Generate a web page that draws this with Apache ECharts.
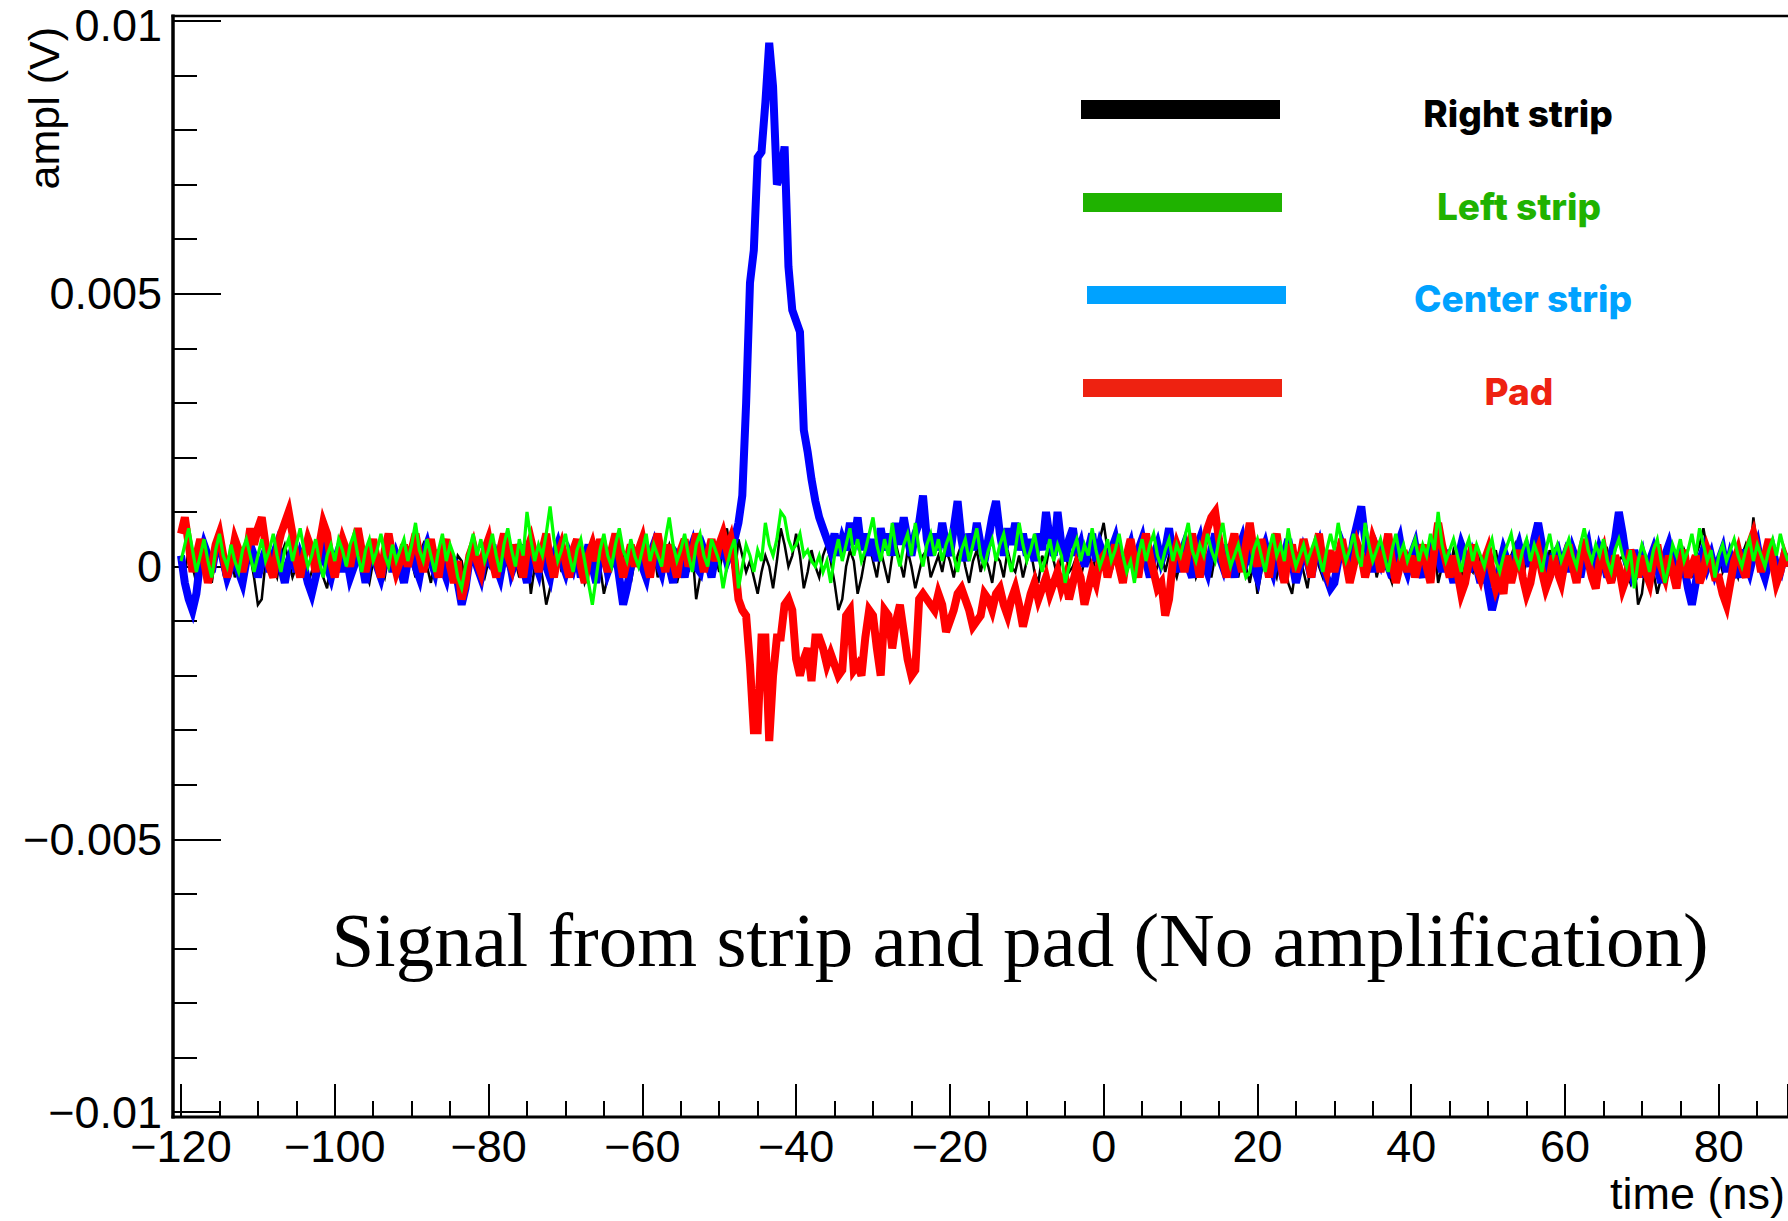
<!DOCTYPE html>
<html>
<head>
<meta charset="utf-8">
<script src="https://cdn.jsdelivr.net/npm/echarts@6/dist/echarts.min.js"></script>
<style>
html,body{margin:0;padding:0;background:#ffffff;}
#chart{width:1788px;height:1221px;}
</style>
</head>
<body>
<div id="chart"></div>
<script>
// ---- sampling grid (ns) ----
const TIME_START = -120;
const TIME_STEP = 0.5;

// ---- tick labels ----
const X_TICK_VALUES = [-120, -100, -80, -60, -40, -20, 0, 20, 40, 60, 80];
const X_TICK_LABELS = ['\u2212120', '\u2212100', '\u221280', '\u221260', '\u221240', '\u221220', '0', '20', '40', '60', '80'];
// amplitudes are stored in units of 1e-4 V
const Y_TICK_VALUES = [-100, -50, 0, 50, 100];
const Y_TICK_LABELS = ['\u22120.01', '\u22120.005', '0', '0.005', '0.01'];

// ---- series names ----
const SERIES_NAMES = ['Right strip', 'Left strip', 'Center strip', 'Pad'];

// ---- amplitudes (1e-4 V), one value every 0.5 ns from -120 ns ----
const rightStrip = [
 1,-1,3,0,-3,1,4,0,-3,2,3,-1,1,3,-2,0,-4,1,2,-2,
 -7,-6,1,3,0,-2,2,4,1,-2,0,3,1,-3,-1,2,0,-2,-4,1,
 2,-1,3,1,-2,0,4,2,-1,-3,1,3,0,-2,2,4,1,-2,-1,3,
 1,-2,2,4,0,-3,1,2,-1,3,0,-2,2,1,-3,-1,3,2,0,-2,
 1,3,-1,-3,2,0,4,1,-2,2,3,-5,0,2,-2,-7,-4,1,3,-1,
 2,0,-2,3,1,-3,-1,2,4,0,-5,-2,1,3,-1,2,0,-3,1,4,
 2,-1,1,3,-2,0,2,4,1,-3,0,2,-1,3,-6,-2,1,3,0,2,
 -1,3,7,2,-2,5,2,-1,1,-2,-5,-1,2,0,-4,1,7,4,0,2,
 6,2,-4,-1,3,0,-2,2,4,1,-3,-8,-6,0,3,1,-5,-2,2,4,
 1,-2,3,0,-3,2,4,1,-2,3,0,-4,-1,2,3,-2,0,2,-1,3,
 1,-2,2,4,0,-3,1,3,-1,2,0,-3,2,1,-2,3,0,-1,2,-2,
 1,3,-1,-3,2,0,4,1,-2,2,3,-1,0,2,-2,1,3,-1,2,5,
 8,3,-1,2,0,-3,1,3,-2,0,2,4,1,-2,0,3,-1,2,0,-2,
 1,3,-1,2,-2,0,3,1,-2,2,4,0,-1,3,1,-2,2,0,-3,1,
 -5,-1,2,3,0,-2,2,1,-3,-5,0,2,-1,-4,1,3,0,-2,2,1,
 2,-1,3,0,-2,1,4,2,-1,0,3,-2,1,2,-1,-3,1,3,0,2,
 -1,2,0,3,-2,1,4,-3,0,2,-1,3,1,-2,2,0,-1,3,1,-2,
 2,0,3,-1,-3,1,2,4,0,-2,1,3,-1,2,0,-2,3,1,-1,2,
 0,3,1,-2,2,4,0,-1,2,-2,1,3,0,-2,1,2,-1,-3,1,-7,
 -5,1,2,-1,-5,-2,1,3,0,2,-1,3,1,-2,2,4,7,3,0,-1,
 2,-1,1,3,0,-2,2,4,1,9,3,-1,2,0,3,1,-1,2,0
];
const leftStrip = [
 1,4,7,3,-1,2,5,1,-2,3,6,2,0,4,1,-1,3,5,2,-1,
 2,5,1,3,6,2,-1,3,5,1,4,7,3,0,2,5,1,-2,2,4,
 1,5,3,0,4,6,2,-1,3,5,1,3,6,2,0,4,1,3,5,1,
 4,8,3,1,5,2,-1,3,6,1,4,2,-2,-4,0,3,6,2,5,1,
 3,6,2,-1,4,7,3,0,5,2,10,5,1,4,2,6,11,5,1,3,
 6,2,-1,3,5,1,-3,-7,-2,3,6,2,0,4,7,3,1,5,2,0,
 3,6,1,4,2,0,5,9,4,1,3,6,2,-1,4,6,2,0,5,3,
 1,-4,0,3,5,-4,0,4,2,-1,3,1,8,4,2,5,10,9,5,3,
 4,6,2,3,1,0,2,-1,1,-3,2,5,1,4,7,2,5,1,3,6,
 9,4,1,5,2,8,3,0,4,6,2,8,3,0,4,6,2,5,1,4,
 6,2,-1,3,5,1,4,7,2,0,3,5,1,4,6,2,-1,3,8,4,
 1,3,6,2,-1,2,5,1,4,2,-3,0,3,5,1,4,2,7,3,0,
 2,5,1,3,6,2,-1,1,-3,2,5,1,4,6,2,0,3,5,1,4,
 2,5,8,3,1,4,2,6,3,1,5,8,3,0,2,4,1,-2,-1,3,
 5,2,-1,3,6,2,4,1,7,3,0,2,4,1,3,5,2,-1,3,6,
 3,8,4,1,3,6,2,0,8,4,1,3,5,2,-1,3,6,2,4,1,
 3,5,1,4,2,6,3,10,4,1,3,5,2,-1,3,5,1,4,2,0,
 3,5,1,-1,2,4,6,2,0,3,5,1,4,2,-1,3,6,2,4,1,
 3,5,2,0,4,7,3,1,4,2,5,1,-1,3,5,2,0,3,-4,1,
 4,2,-1,3,5,1,-3,0,4,2,5,1,3,6,2,7,4,1,3,-2,
 2,4,1,3,5,2,0,3,5,1,4,2,0,3,5,2,6,3,1
];
const centerStrip = [
 2,-3,-6,-8,-5,1,4,2,-1,3,5,1,-2,0,3,-1,-3,1,4,2,
 -2,1,3,-1,2,4,0,-3,1,3,-1,2,0,-3,-5,-2,1,3,0,-2,
 1,3,-1,2,-2,0,4,1,-3,2,3,0,-2,1,3,-1,2,0,-3,1,
 3,0,-2,2,4,1,-1,3,0,-2,2,1,-3,-7,-4,1,3,0,-2,2,
 1,4,0,-2,2,3,-1,1,4,0,-3,2,1,-1,3,0,-2,2,4,1,
 -1,2,0,3,-2,1,4,0,-3,2,3,-1,1,3,-2,-7,-4,0,2,3,
 0,-2,2,4,1,-1,3,0,-3,2,1,-2,2,4,0,-1,3,1,-2,2,
 2,4,1,3,5,8,13,30,52,58,75,76,85,96,88,70,72,77,55,47,
 45,43,25,21,16,12,9,7,5,3,6,2,5,3,8,4,9,3,6,2,
 5,1,7,3,6,2,8,4,9,5,2,6,8,13,5,2,6,3,8,4,
 2,7,12,5,1,6,3,8,4,1,5,9,12,6,2,7,4,8,3,6,
 2,5,1,6,3,10,5,2,10,4,1,5,7,2,4,0,3,6,1,4,
 2,-1,3,5,1,-2,2,4,0,3,5,1,-2,2,4,1,3,7,2,-1,
 2,4,0,-2,3,5,1,-1,3,6,2,0,4,1,-2,3,5,1,3,0,
 -2,2,4,1,-1,3,0,2,5,1,-3,0,3,1,-2,2,4,0,-2,-4,
 -3,1,4,2,0,5,8,11,5,2,-1,3,1,4,0,-2,3,5,1,-1,
 2,4,0,-2,3,1,5,2,-1,3,0,-3,1,4,2,-1,2,0,-3,1,
 -4,-8,-5,0,3,1,-2,2,4,1,3,0,5,8,4,1,-2,2,3,0,
 2,-1,3,1,-2,2,4,0,-1,3,1,-2,2,5,10,6,1,-1,3,0,
 2,-2,1,3,0,-3,2,4,1,-2,2,0,-4,-7,-3,1,3,0,2,-1,
 1,3,-1,2,0,-2,3,1,-1,2,4,0,-2,1,3,0,-1,2,1
];
const pad = [
 6,9,4,-1,2,5,1,-3,0,4,6,2,-2,1,5,3,-1,2,7,4,
 7,9,4,0,-2,3,6,8,10,6,1,-2,2,5,3,-1,4,8,6,1,
 -2,2,5,3,0,4,7,3,-1,2,5,1,-2,3,6,2,-1,1,4,0,
 3,6,2,-1,2,5,1,-2,3,5,0,-3,1,-6,-3,2,4,1,-1,3,
 5,1,-2,3,6,2,0,4,1,-2,3,5,2,-1,3,6,1,-2,2,4,
 1,-2,3,5,0,-3,2,4,1,5,2,-1,3,6,2,-2,1,4,0,3,
 5,1,-2,3,6,2,-1,4,1,-2,3,5,0,2,6,3,-1,2,5,1,
 4,6,3,5,1,-6,-8,-9,-18,-30,-30,-13,-13,-32,-20,-13,-13,-7,-6,-8,
 -17,-20,-17,-15,-21,-13,-13,-15,-18,-16,-18,-20,-19,-9,-8,-19,-18,-20,-13,-8,
 -9,-15,-20,-8,-9,-15,-10,-7,-12,-17,-20,-19,-6,-5,-6,-7,-8,-5,-7,-12,
 -10,-8,-5,-4,-6,-8,-11,-10,-9,-5,-6,-8,-5,-4,-7,-9,-6,-4,-7,-11,
 -8,-5,-3,-6,-4,-2,-5,-3,-1,-4,-2,-6,-3,0,-2,-7,-4,-1,-3,1,
 2,-2,1,4,0,-3,2,5,1,-2,3,6,2,-1,-4,-3,-9,-6,1,4,
 2,-1,3,6,2,-2,4,7,9,10,5,1,-2,3,6,2,-1,4,8,3,
 0,5,2,-2,3,6,1,-3,2,4,-1,1,5,2,-2,3,6,1,-1,3,
 -1,2,5,1,-3,0,4,2,-2,1,5,3,-1,2,6,1,-3,0,3,-1,
 2,-2,1,4,0,-3,3,8,4,1,-2,2,-1,-5,-3,1,4,0,-2,1,
 3,-1,-4,-2,-5,2,-3,0,3,-2,-5,-3,1,3,-1,-4,-2,2,-1,-3,
 1,4,0,-3,2,5,1,-2,-4,1,3,-1,-3,2,0,-4,-2,3,1,-2,
 2,-1,-3,1,4,0,-2,2,-1,-4,1,3,-2,0,2,-3,-1,3,1,-2,
 -2,-5,-7,-3,1,3,0,-2,4,6,3,-1,2,5,1,-3,-1,2,0
];

function toPairs(values) {
  return values.map(function (v, i) { return [TIME_START + i * TIME_STEP, v]; });
}

const chart = echarts.init(document.getElementById('chart'), null, { renderer: 'svg', width: 1788, height: 1221 });

const AXIS_FONT = 'Liberation Sans';
const tickStyle = { color: '#000000', width: 2 };

function lineSeries(name, values, color, width, z) {
  return {
    type: 'line', name: name, data: toPairs(values),
    symbol: 'none', showSymbol: false, silent: true, z: z,
    lineStyle: { color: color, width: width, join: 'miter', miterLimit: 4 },
    animation: false
  };
}

const option = {
  backgroundColor: '#ffffff',
  animation: false,
  grid: { left: 181, right: 0, top: 21, bottom: 109, containLabel: false, outerBoundsMode: 'none' },
  xAxis: {
    type: 'value', min: -120, max: 89, interval: 20, offset: 5,
    axisLine: { show: false, onZero: false },
    axisTick: { show: true, inside: true, length: 33, lineStyle: tickStyle },
    minorTick: { show: true, splitNumber: 4, length: 16, lineStyle: tickStyle },
    splitLine: { show: false }, minorSplitLine: { show: false },
    axisLabel: {
      show: true, margin: 12, fontSize: 45, lineHeight: 34, fontFamily: AXIS_FONT, color: '#000000',
      showMaxLabel: false,
      formatter: function (v) { const i = X_TICK_VALUES.indexOf(v); return i < 0 ? '' : X_TICK_LABELS[i]; }
    }
  },
  yAxis: {
    type: 'value', min: -100, max: 100, interval: 50, offset: 8,
    axisLine: { show: false, onZero: false },
    axisTick: { show: true, inside: true, length: 48, lineStyle: tickStyle },
    minorTick: { show: true, splitNumber: 5, length: 24, lineStyle: tickStyle },
    splitLine: { show: false }, minorSplitLine: { show: false },
    axisLabel: {
      show: true, margin: 11, fontSize: 45, lineHeight: 28, fontFamily: AXIS_FONT, color: '#000000',
      formatter: function (v) {
        const i = Y_TICK_VALUES.indexOf(v);
        if (i < 0) return '';
        return i === Y_TICK_VALUES.length - 1 ? '{top|' + Y_TICK_LABELS[i] + '}' : Y_TICK_LABELS[i];
      },
      rich: {
        top: { fontSize: 45, fontFamily: AXIS_FONT, color: '#000000', lineHeight: 28, padding: [8, 0, 0, 0] }
      }
    }
  },
  series: [
    lineSeries(SERIES_NAMES[0], rightStrip, '#000000', 2.5, 2),
    lineSeries(SERIES_NAMES[2], centerStrip, '#0000ff', 8, 3),
    lineSeries(SERIES_NAMES[3], pad, '#ff0000', 8, 4),
    lineSeries(SERIES_NAMES[1], leftStrip, '#00ff00', 3.2, 5)
  ],
  graphic: [
    // frame
    { type: 'line', silent: true, z: 100, shape: { x1: 173, y1: 14.5, x2: 173, y2: 1118.5 }, style: { stroke: '#000', lineWidth: 3.5 } },
    { type: 'line', silent: true, z: 100, shape: { x1: 171.5, y1: 1117, x2: 1788, y2: 1117 }, style: { stroke: '#000', lineWidth: 3 } },
    { type: 'line', silent: true, z: 100, shape: { x1: 171.5, y1: 16, x2: 1788, y2: 16 }, style: { stroke: '#000', lineWidth: 2.5 } },
    // legend bars
    { type: 'rect', silent: true, z: 100, shape: { x: 1081, y: 100, width: 199, height: 19 }, style: { fill: '#000000' } },
    { type: 'rect', silent: true, z: 100, shape: { x: 1083, y: 193, width: 199, height: 19 }, style: { fill: '#1fb200' } },
    { type: 'rect', silent: true, z: 100, shape: { x: 1087, y: 286, width: 199, height: 18 }, style: { fill: '#00a2ff' } },
    { type: 'rect', silent: true, z: 100, shape: { x: 1083, y: 379, width: 199, height: 18 }, style: { fill: '#ee2211' } },
    // legend labels
    { type: 'text', silent: true, z: 100, x: 1518, y: 113, style: { text: SERIES_NAMES[0], fill: '#000000', font: '800 37px Inter', align: 'center', verticalAlign: 'middle' } },
    { type: 'text', silent: true, z: 100, x: 1519, y: 206, style: { text: SERIES_NAMES[1], fill: '#1fb200', font: '800 37px Inter', align: 'center', verticalAlign: 'middle' } },
    { type: 'text', silent: true, z: 100, x: 1523, y: 298, style: { text: SERIES_NAMES[2], fill: '#00a2ff', font: '800 37px Inter', align: 'center', verticalAlign: 'middle' } },
    { type: 'text', silent: true, z: 100, x: 1519, y: 391, style: { text: SERIES_NAMES[3], fill: '#ee2211', font: '800 37px Inter', align: 'center', verticalAlign: 'middle' } },
    // axis titles
    { type: 'text', silent: true, z: 100, x: 44, y: 27, rotation: Math.PI / 2, style: { text: 'ampl (V)', fill: '#000', font: '43px "Liberation Sans"', align: 'right', verticalAlign: 'middle' } },
    { type: 'text', silent: true, z: 100, x: 1785, y: 1193, style: { text: 'time (ns)', fill: '#000', font: '45px "Liberation Sans"', align: 'right', verticalAlign: 'middle' } },
    // annotation
    { type: 'text', silent: true, z: 100, x: 1020, y: 940, style: { text: 'Signal from strip and pad (No amplification)', fill: '#000', font: '77px "Liberation Serif"', align: 'center', verticalAlign: 'middle' } }
  ]
};
chart.setOption(option);
</script>
</body>
</html>
